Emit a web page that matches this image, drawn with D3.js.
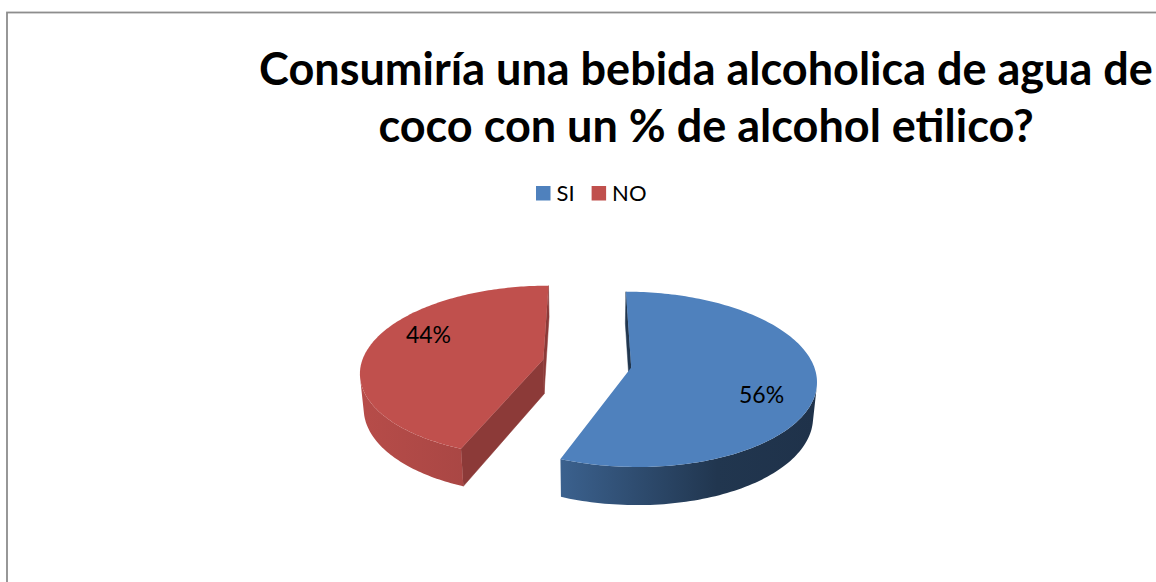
<!DOCTYPE html>
<html>
<head>
<meta charset="utf-8">
<script src="https://cdn.jsdelivr.net/npm/d3@7/dist/d3.min.js"></script>
<style>
  html, body { margin: 0; padding: 0; background: #ffffff; }
  svg { display: block; }
</style>
</head>
<body>
<svg id="chart" width="1156" height="582"></svg>
<script>
// Survey answers
const categories = ["SI", "NO"];
const values = [56, 44];
const sliceColors = ["#4F81BD", "#C0504D"];
const titleLines = ["Consumiría una bebida alcoholica de agua de", "coco con un % de alcohol etilico?"];

const W = 1156, H = 582;
const svg = d3.select("#chart");
const FONT = "Lato, 'Open Sans', sans-serif";

// ---- frame ----
svg.append("rect")
  .attr("x", 7).attr("y", 12.5)
  .attr("width", 1300).attr("height", 700)
  .attr("fill", "#ffffff")
  .attr("stroke", "#8d8d8d")
  .attr("stroke-width", 1.8);

// ---- title ----
const titleG = svg.append("g");
const titleCx = 706;
const t1 = titleG.append("text")
  .attr("x", titleCx).attr("y", 85)
  .attr("text-anchor", "middle")
  .attr("font-family", FONT).attr("font-weight", 700)
  .attr("font-size", 43).attr("fill", "#000")
  .text(titleLines[0]);
// fit the first line to its box width
const w1 = t1.node().getComputedTextLength();
const titleSize = 43 * 894 / w1;
t1.attr("font-size", titleSize);
titleG.append("text")
  .attr("x", titleCx).attr("y", 142)
  .attr("text-anchor", "middle")
  .attr("font-family", FONT).attr("font-weight", 700)
  .attr("font-size", titleSize).attr("fill", "#000")
  .text(titleLines[1]);

// ---- legend ----
const legend = svg.append("g");
let lx = 536;
const legendY = 186, box = 14.5, legendFont = 22;
categories.forEach((c, i) => {
  legend.append("rect")
    .attr("x", lx).attr("y", legendY)
    .attr("width", box).attr("height", box)
    .attr("fill", sliceColors[i]);
  const t = legend.append("text")
    .attr("x", lx + box + 6).attr("y", legendY + box + 0.5)
    .attr("font-family", FONT).attr("font-size", legendFont)
    .attr("fill", "#000")
    .text(c);
  lx += box + 6 + t.node().getComputedTextLength() + 17;
});

// ---- 3D exploded pie ----
const R = 179, depth = 39, explode = 44;
const phi = 29.5 * Math.PI / 180, sinP = Math.sin(phi), cosP = Math.cos(phi);
const Dcam = 1171, cx = 587, cy = 398;
const cam = [0, Dcam * sinP, Dcam * cosP];

// world (X right, Y up, Z toward viewer) -> screen
function proj(X, Y, Z) {
  const c = Z * cosP + Y * sinP;
  const f = Dcam / (Dcam - c);
  return [cx + X * f, cy + (Z * sinP - Y * cosP) * f];
}
const dir = a => [Math.sin(a), -Math.cos(a)];   // angle clockwise from the back
function rim(a, off, Y) {
  const d = dir(a);
  return proj(off[0] + R * d[0], Y, off[1] + R * d[1]);
}
function facing(n, p) {
  // n: outward normal (X,Z), p: point (X,Y,Z)
  return n[0] * (cam[0] - p[0]) + n[1] * (cam[2] - p[2]) > 0;
}
const shade = (col, k) => {
  const c = d3.rgb(col);
  return d3.rgb(c.r * k, c.g * k, c.b * k).formatHex();
};

const pie = d3.pie().sort(null).value(d => d)
  .startAngle(0).endAngle(2 * Math.PI);
const arcs = pie(values);
const total = d3.sum(values);
const line = d3.line();

const defs = svg.append("defs");
// side gradients: lighter on the left, darker to the right
const sideStops = [
  [[0, 0.75], [0.62, 0.42], [1, 0.39]],
  [[0, 0.95], [1, 0.83]]
];
const cutShade = [0.42, 0.73];

const pieG = svg.append("g");
arcs.forEach((a, i) => {
  const mid = (a.startAngle + a.endAngle) / 2;
  const md = dir(mid);
  const off = [explode * md[0], explode * md[1]];
  const col = sliceColors[i];
  const g = pieG.append("g");

  const steps = 160;
  const angles = d3.range(steps + 1).map(k => a.startAngle + (a.endAngle - a.startAngle) * k / steps);
  const xs = angles.map(t => rim(t, off, 0)[0]);
  const gid = "side" + i;
  const grad = defs.append("linearGradient").attr("id", gid)
    .attr("gradientUnits", "userSpaceOnUse")
    .attr("x1", d3.min(xs)).attr("x2", d3.max(xs)).attr("y1", 0).attr("y2", 0);
  sideStops[i].forEach(s => grad.append("stop")
    .attr("offset", s[0]).attr("stop-color", shade(col, s[1])));

  // flat cut faces at both slice edges
  [[a.startAngle, -1], [a.endAngle, 1]].forEach(([ang, sgn]) => {
    const n = dir(ang + sgn * Math.PI / 2);
    const d = dir(ang);
    const p = [off[0] + d[0] * R / 2, depth / 2, off[1] + d[1] * R / 2];
    if (!facing(n, p)) return;
    const pts = [
      proj(off[0], depth, off[1]), rim(ang, off, depth),
      rim(ang, off, 0), proj(off[0], 0, off[1])
    ];
    g.append("path").attr("d", line(pts) + "Z")
      .attr("fill", shade(col, cutShade[i]))
      .attr("stroke", shade(col, cutShade[i])).attr("stroke-width", 0.5);
  });

  // curved outer wall: the run of angles whose wall faces the viewer
  const vis = angles.filter(t => {
    const n = dir(t);
    return facing(n, [off[0] + R * n[0], depth / 2, off[1] + R * n[1]]);
  });
  if (vis.length > 1) {
    const wall = vis.map(t => rim(t, off, depth))
      .concat(vis.slice().reverse().map(t => rim(t, off, 0)));
    g.append("path").attr("d", line(wall) + "Z")
      .attr("fill", `url(#${gid})`);
  }

  // top face
  const topPts = [proj(off[0], depth, off[1])].concat(angles.map(t => rim(t, off, depth)));
  g.append("path").attr("d", line(topPts) + "Z").attr("fill", col);

  // percentage label on the top face
  const la = mid + 14 * Math.PI / 180, ld = dir(la), lr = R * 0.74;
  const lp = proj(off[0] + lr * ld[0], depth, off[1] + lr * ld[1]);
  g.append("text")
    .attr("x", lp[0]).attr("y", lp[1] + 8)
    .attr("text-anchor", "middle")
    .attr("font-family", FONT).attr("font-size", 23)
    .attr("fill", "#000")
    .text(d3.format(".0%")(a.value / total));
});
</script>
</body>
</html>
